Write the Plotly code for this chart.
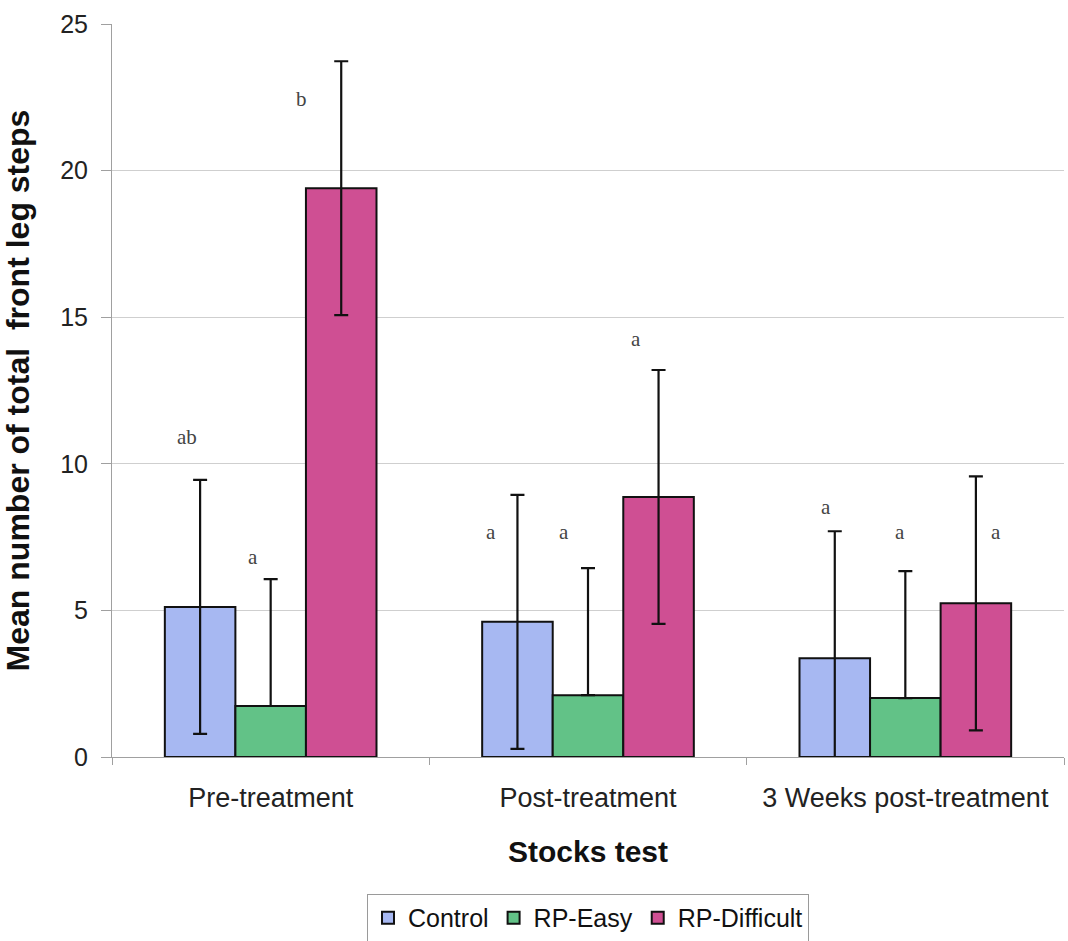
import plotly.graph_objects as go

# Test sessions (x categories)
sessions = ["Pre-treatment", "Post-treatment", "3 Weeks post-treatment"]

# Mean number of total front leg steps per group
control_mean = [5.12, 4.61, 3.37]
easy_mean = [1.74, 2.11, 2.01]
difficult_mean = [19.40, 8.87, 5.24]

# Error bar half-lengths
control_err = [4.33, 4.33, 4.33]
easy_err = [4.33, 4.33, 4.33]
difficult_err = [4.33, 4.33, 4.33]

# Significance letters for each bar (per session: Control, RP-Easy, RP-Difficult)
letters = [["ab", "a", "b"], ["a", "a", "a"], ["a", "a", "a"]]
letter_heights = [[10.9, 6.83, 22.45], [7.68, 7.68, 14.25], [8.53, 7.68, 7.68]]

y_ticks = [0, 5, 10, 15, 20, 25]

BLUE = "#a7b8f2"
GREEN = "#62c287"
MAGENTA = "#cf4f93"

def lower_err(means, errs):
    # whiskers stop at the axis baseline
    return [min(e, m) for m, e in zip(means, errs)]

common_bar = dict(marker_line_color="#111111", marker_line_width=2)
err_style = dict(color="#111111", thickness=2.2, width=7)

fig = go.Figure()
fig.add_trace(go.Bar(
    x=sessions, y=control_mean, name="Control", marker_color=BLUE,
    error_y=dict(type="data", array=control_err,
                 arrayminus=lower_err(control_mean, control_err), **err_style),
    **common_bar))
fig.add_trace(go.Bar(
    x=sessions, y=easy_mean, name="RP-Easy", marker_color=GREEN,
    error_y=dict(type="data", array=easy_err,
                 arrayminus=[0 for _ in easy_mean], **err_style),
    **common_bar))
fig.add_trace(go.Bar(
    x=sessions, y=difficult_mean, name="RP-Difficult", marker_color=MAGENTA,
    error_y=dict(type="data", array=difficult_err,
                 arrayminus=lower_err(difficult_mean, difficult_err), **err_style),
    **common_bar))

# pixel offsets of each letter from its session centre
letter_shift = [[-84, -18, 31], [-97, -24, 48], [-79, -5, 91]]
for i, s in enumerate(sessions):
    for j in range(3):
        fig.add_annotation(
            x=s, y=letter_heights[i][j], xref="x", yref="y",
            text=letters[i][j], showarrow=False, xshift=letter_shift[i][j],
            font=dict(family="Liberation Serif, Times New Roman, serif",
                      size=21, color="#444444"))

fig.update_layout(
    width=1068, height=941,
    margin=dict(l=112, r=4, t=24, b=184, autoexpand=False),
    paper_bgcolor="white", plot_bgcolor="white",
    barmode="group", bargap=0.333, bargroupgap=0,
    font=dict(family="Liberation Sans, Arial, sans-serif", color="#222222"),
    showlegend=True,
    legend=dict(orientation="h", x=0.5, xanchor="center",
                yref="container", y=0.05, yanchor="top",
                font=dict(size=25, color="#111111"),
                bordercolor="#9a9a9a", borderwidth=1,
                tracegroupgap=0),
    xaxis=dict(
        title=dict(text="<b>Stocks test</b>", font=dict(size=30, color="#111111"),
                   standoff=28),
        tickfont=dict(size=27, color="#222222"),
        showline=True, linecolor="#a0a0a0", linewidth=1,
        ticks="outside", tickson="boundaries", ticklen=7, tickcolor="#a0a0a0",
        ticklabelstandoff=17,
        showgrid=False,
    ),
    yaxis=dict(
        title=dict(text="<b>Mean number of total  front leg steps</b>",
                   font=dict(size=32, color="#111111"), standoff=20),
        range=[0, 25], tickvals=y_ticks,
        tickfont=dict(size=25, color="#222222"),
        showline=True, linecolor="#a0a0a0", linewidth=1,
        ticks="outside", ticklen=10, tickcolor="#a0a0a0",
        ticklabelstandoff=8,
        showgrid=True, gridcolor="#cfcfcf", gridwidth=1,
        zeroline=False,
    ),
)

fig.write_html("out.html")
